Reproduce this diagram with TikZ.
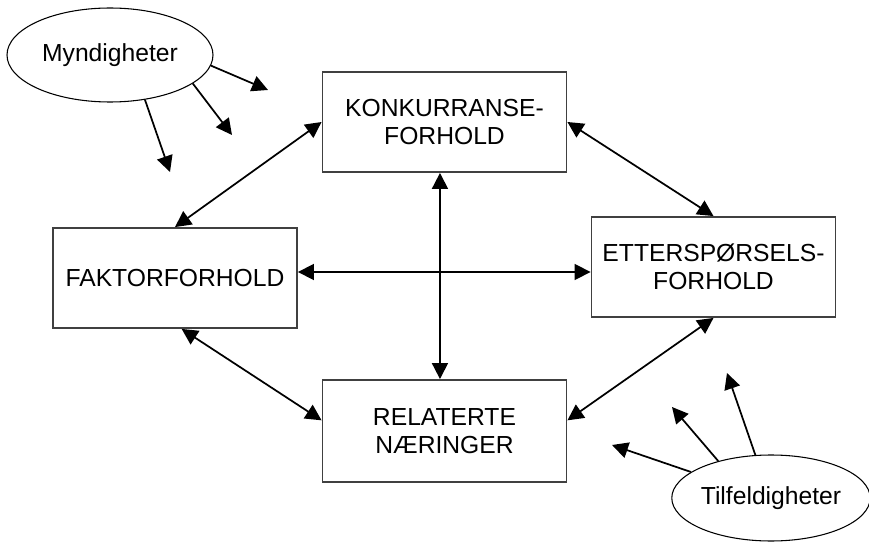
\documentclass[tikz,border=0pt]{standalone}
\usepackage{fontspec}
\setmainfont{Liberation Sans}
\usetikzlibrary{arrows.meta,shapes.geometric}
\begin{document}
\begin{tikzpicture}[x=0.75pt, y=-0.75pt, >={Triangle[length=12pt,width=12pt]},
	faktor/.style={draw=black!75, line width=1.4pt, minimum width=183pt, minimum height=75pt, align=center, font=\fontsize{18.5}{21}\selectfont},
	kilde/.style={ellipse, draw, line width=0.8pt, inner sep=0pt, font=\fontsize{18.5}{21}\selectfont},
	pil/.style={line width=1.3pt}]
	\useasboundingbox (0,0) rectangle (869,542);
	% de fire boksene
	\node[faktor] (kon) at (444.5,122) {KONKURRANSE-\\FORHOLD};
	\node[faktor] (fak) at (175,278) {FAKTORFORHOLD};
	\node[faktor] (ett) at (713.5,267) {ETTERSPØRSELS-\\FORHOLD};
	\node[faktor, minimum height=76.5pt] (rel) at (444.5,431) {RELATERTE\\NÆRINGER};
	% ytre paavirkning
	\node[kilde, minimum width=154.5pt, minimum height=70.5pt] (myn) at (110,55) {Myndigheter};
	\node[kilde, minimum width=147pt, minimum height=64.5pt] (til) at (771,498) {Tilfeldigheter};
	\coordinate (m1) at (268,90);
	\coordinate (m2) at (232,135);
	\coordinate (m3) at (170,172);
	\coordinate (t1) at (612,445);
	\coordinate (t2) at (672,407);
	\coordinate (t3) at (727,373);
	\foreach \a / \p in {-6/m1, -19/m2, -52/m3} {
		\draw[->, pil] (myn.\a) -- (\p);
	}
	\foreach \a / \p in {162/t1, 145/t2, 110/t3} {
		\draw[->, pil] (til.\a) -- (\p);
	}
	% diamanten
	\draw[<->, pil] (kon.west) -- (fak.north);
	\draw[<->, pil] (kon.east) -- (ett.north);
	\draw[<->, pil] ([yshift=4.5pt]fak.east) -- ([yshift=-3.75pt]ett.west);
	\draw[<->, pil] ([xshift=-3.4pt]kon.south) -- ([xshift=-3.4pt]rel.north);
	\draw[<->, pil] ([xshift=5pt]fak.south) -- ([yshift=8pt]rel.west);
	\draw[<->, pil] (ett.south) -- ([yshift=8pt]rel.east);
\end{tikzpicture}
\end{document}
